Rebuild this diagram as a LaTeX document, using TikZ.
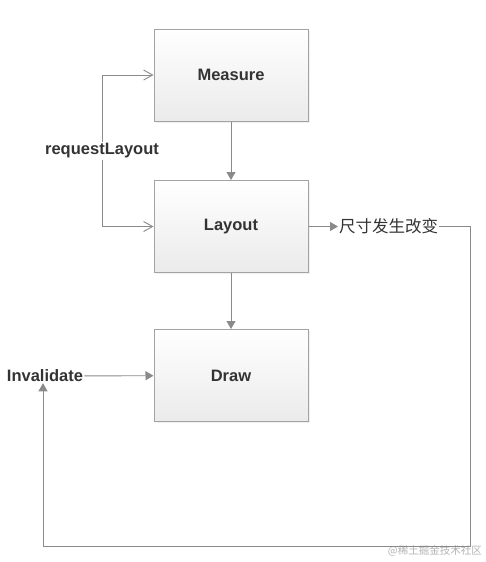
\documentclass[tikz,border=0pt]{standalone}
\usepackage{fontspec}
\setmainfont{Liberation Sans}
\newfontfamily\cjkfont{Noto Sans CJK SC}
\usepackage{xcolor}
\usetikzlibrary{positioning, arrows.meta, shadows}
\definecolor{linegray}{HTML}{8A8A8A}
\definecolor{boxgray}{HTML}{A3A3A3}
\definecolor{textdark}{HTML}{333333}
\begin{document}
\begin{tikzpicture}[x=1pt, y=-1pt,
  stagebox/.style={draw=boxgray, line width=1pt, minimum width=154pt, minimum height=92pt,
    top color=white, bottom color=black!8, text=textdark,
    font=\fontsize{16.5}{18}\selectfont\bfseries,
    drop shadow={opacity=0.12, shadow xshift=1.5pt, shadow yshift=-1.5pt}},
  lbl/.style={text=textdark, font=\fontsize{16.5}{18}\selectfont\bfseries, inner sep=1pt},
  flow/.style={draw=linegray, line width=0.9pt, -{Triangle[length=8pt,width=9pt]}},
  back/.style={draw=linegray, line width=0.9pt, -{Straight Barb[length=9pt,width=10pt]}}]
\useasboundingbox (0,0) rectangle (486,562);
% stages
\node[stagebox] (measure) at (231,75) {Measure};
\node[stagebox] (layout) at (231,226.5) {Layout};
\node[stagebox] (draw) at (231,375.5) {Draw};
% labels
\node[lbl] (req) at (102,151) {requestLayout};
\node[lbl] (inv) at (45,376) {Invalidate};
\node[text=textdark, font=\cjkfont\fontsize{16.5}{18}\selectfont, inner sep=1pt, anchor=west] (size) at (338,226.5) {尺寸发生改变};
\node[text=black!30, font=\cjkfont\fontsize{10.5}{12}\selectfont, anchor=east, inner sep=0pt] (mark) at (482,551) {@稀土掘金技术社区};
\coordinate (c1) at (470,546);
\coordinate (c2) at (43,546);
% connectors
\draw[flow] (measure) -- (layout);
\draw[flow] (layout) -- (draw);
\draw[back] (req) |- (measure);
\draw[back] (req) |- (layout);
\draw[flow] (layout) -- (size);
\draw[flow] (inv) -- (draw);
\draw[flow] (size) -| (c1) -- (c2) -- (c2 |- inv.south);
\end{tikzpicture}
\end{document}
